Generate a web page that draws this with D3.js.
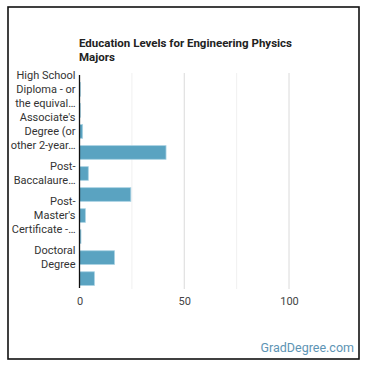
<!DOCTYPE html>
<html>
<head>
<meta charset="utf-8">
<script src="https://cdn.jsdelivr.net/npm/d3@7"></script>
<style>
  body { margin: 0; background: #fff; }
  text { font-family: Roboto, "Noto Sans", sans-serif; }
</style>
</head>
<body>
<div id="chart"></div>
<script>
const categories = [
    "High School Diploma - or the equivalent (for example, GED)",
    "Some College Courses",
    "Associate's Degree (or other 2-year degree)",
    "Bachelor's Degree",
    "Post-Baccalaureate Certificate",
    "Master's Degree",
    "Post-Master's Certificate - awarded for completion of an organized program",
    "First Professional Degree",
    "Doctoral Degree",
    "Post-Doctoral Training"
];
const percents = [0.4, 0.4, 1.5, 41.3, 4.2, 24.5, 2.8, 0.7, 16.7, 7.1];
const xTicks = [0, 50, 100];
const gridTicks = [0, 25, 50, 75, 100];
const titleLines = ["Education Levels for Engineering Physics", "Majors"];

const W = 370, H = 370;
const margin = {top: 79, right: 81, bottom: 81, left: 79.5};

const svg = d3.select("#chart")
    .append("svg")
    .attr("width", W)
    .attr("height", H);

// frame
svg.append("rect")
    .attr("x", 8).attr("y", 7)
    .attr("width", 351).attr("height", 352)
    .attr("fill", "none")
    .attr("stroke", "#111")
    .attr("stroke-width", 1.6);

const x = d3.scaleLinear().domain([0, 100]).range([margin.left, W - margin.right]);
const y = d3.scaleBand().domain(categories).range([margin.top, H - margin.bottom]).paddingInner(0.35).paddingOuter(0.17);

// title
svg.append("text")
    .attr("x", 79).attr("y", 47)
    .attr("font-size", "11.5px")
    .attr("font-weight", "bold")
    .attr("fill", "#222")
    .selectAll("tspan")
    .data(titleLines)
    .join("tspan")
    .attr("x", 79)
    .attr("dy", (d, i) => i ? 13.5 : 0)
    .text(d => d);

// grid
svg.append("g")
    .selectAll("line")
    .data(gridTicks.filter(d => d > 0))
    .join("line")
    .attr("x1", d => x(d)).attr("x2", d => x(d))
    .attr("y1", 73).attr("y2", 289)
    .attr("stroke", d => d % 50 == 0 ? "#dadada" : "#f0f0f0")
    .attr("stroke-width", 1);

// bars
svg.append("g")
    .selectAll("rect")
    .data(percents)
    .join("rect")
    .attr("x", x(0))
    .attr("y", (d, i) => y(categories[i]))
    .attr("width", d => x(d) - x(0))
    .attr("height", y.bandwidth())
    .attr("fill", "#5aa3c1")
    .attr("stroke", "#a9d2e3")
    .attr("stroke-width", 0.8);

// x axis labels
const xAxis = d3.axisBottom(x).tickValues(xTicks).tickSize(0).tickPadding(8);
const gx = svg.append("g")
    .attr("transform", "translate(0,289)")
    .call(xAxis);
gx.select(".domain").remove();
gx.selectAll("text").attr("font-size", "11px").attr("fill", "#444").style("font-family", "Roboto, sans-serif");

// y axis
const yAxis = d3.axisLeft(y).tickSize(0).tickPadding(4)
    .tickValues(categories.filter((d, i) => i % 2 == 0));
const gy = svg.append("g")
    .attr("transform", "translate(" + x(0) + ",0)")
    .call(yAxis);
gy.select(".domain").attr("d", "M0,75V288").attr("stroke", "#111").attr("stroke-width", 1.3);
gy.selectAll("text")
    .attr("font-size", "11px")
    .attr("fill", "#333")
    .style("font-family", "Roboto, sans-serif")
    .each(function(d) { wrap(d3.select(this), d, 66, 3); });

function wrap(text, label, maxW, maxLines) {
    text.text(null);
    // break on spaces, and after hyphens inside words
    const words = [];
    label.split(/\s+/).forEach(w => w.replace(/-(?=\S)/g, "-\u0001").split("\u0001")
        .forEach((p, j) => words.push({t: p, glue: j > 0})));
    const probe = text.append("tspan");
    const measure = s => { probe.text(s); return probe.node().getComputedTextLength(); };
    const join = ws => ws.map((w, i) => (i && !w.glue ? " " : "") + w.t).join("");
    const clip = s => { while (s.length && measure(s + "…") > maxW) s = s.slice(0, -1); return s.replace(/\s+$/, "") + "…"; };

    const lines = [];
    let cur = [];
    let k = 0;
    for (; k < words.length; k++) {
        const cand = cur.concat([words[k]]);
        if (measure(join(cand)) <= maxW) { cur = cand; continue; }
        if (cur.length) {
            lines.push(join(cur));
            cur = [];
            if (lines.length == maxLines - 1) break;
            k--;
            continue;
        }
        // single word too long: clip and stop
        lines.push(clip(words[k].t));
        k = words.length;
        break;
    }
    if (k < words.length) {
        const rest = join(words.slice(k));
        lines.push(measure(rest) <= maxW ? rest : clip(rest));
    } else if (cur.length) {
        lines.push(join(cur));
    }
    probe.remove();
    const lh = 13.6;
    const y0 = -(lines.length - 1) * lh / 2;
    lines.forEach((l, i) => {
        text.append("tspan")
            .attr("x", -4)
            .attr("dy", i == 0 ? (y0 / 11 + 0.32) + "em" : lh + "px")
            .text(l);
    });
}

// watermark
svg.append("text")
    .attr("x", 354).attr("y", 352)
    .attr("text-anchor", "end")
    .attr("font-size", "12.5px")
    .attr("fill", "#5d94b4")
    .text("GradDegree.com");
</script>
</body>
</html>
